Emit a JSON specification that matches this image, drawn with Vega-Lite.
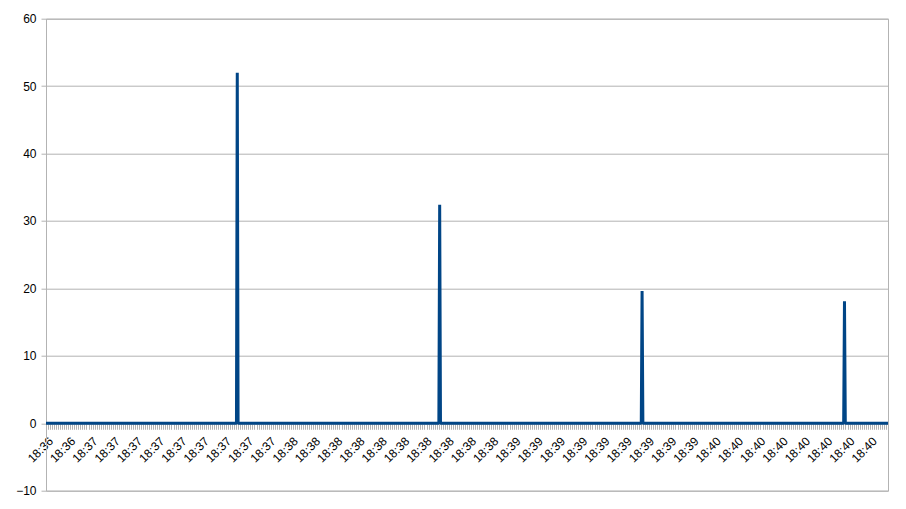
{
  "$schema": "https://vega.github.io/schema/vega-lite/v6.json",
  "width": 842,
  "height": 472,
  "autosize": {"type": "none"},
  "padding": {"left": 46, "top": 18.7, "right": 18, "bottom": 18.3},
  "background": "white",
  "config": {
    "view": {"stroke": "#b3b3b3", "strokeWidth": 1},
    "axis": {"labelFont": "Liberation Sans", "labelFontSize": 12, "labelColor": "#000000"}
  },
  "data": {
    "values": [
      {"sample": 0, "value": 0},
      {"sample": 94.1, "value": 0},
      {"sample": 94.5, "value": 52.0},
      {"sample": 94.9, "value": 0},
      {"sample": 194.1, "value": 0},
      {"sample": 194.5, "value": 32.4},
      {"sample": 194.9, "value": 0},
      {"sample": 294.1, "value": 0},
      {"sample": 294.5, "value": 19.6},
      {"sample": 294.9, "value": 0},
      {"sample": 394.1, "value": 0},
      {"sample": 394.5, "value": 18.1},
      {"sample": 394.9, "value": 0},
      {"sample": 416, "value": 0}
    ]
  },
  "layer": [
    {
      "mark": {"type": "line", "color": "#004586", "strokeWidth": 3, "strokeJoin": "bevel", "clip": false},
      "encoding": {
        "x": {
          "field": "sample", "type": "quantitative",
          "scale": {"domain": [0, 416], "nice": false, "zero": false},
          "axis": {
            "orient": "bottom", "offset": -67.43, "title": null, "grid": false,
            "domain": false, "ticks": false,
            "values": [0.5, 11.5, 22.5, 33.5, 44.5, 55.5, 66.5, 77.5, 88.5, 99.5, 110.5, 121.5, 132.5, 143.5, 154.5, 165.5, 176.5, 187.5, 198.5, 209.5, 220.5, 231.5, 242.5, 253.5, 264.5, 275.5, 286.5, 297.5, 308.5, 319.5, 330.5, 341.5, 352.5, 363.5, 374.5, 385.5, 396.5, 407.5],
            "labelExpr": "['18:36','18:36','18:37','18:37','18:37','18:37','18:37','18:37','18:37','18:37','18:37','18:38','18:38','18:38','18:38','18:38','18:38','18:38','18:38','18:38','18:38','18:39','18:39','18:39','18:39','18:39','18:39','18:39','18:39','18:39','18:40','18:40','18:40','18:40','18:40','18:40','18:40','18:40'][floor(datum.value / 11)]",
            "labelAngle": -45, "labelAlign": "right", "labelBaseline": "top",
            "labelPadding": 12, "labelOverlap": false, "labelFlush": false, "labelBound": false
          }
        },
        "y": {
          "field": "value", "type": "quantitative",
          "scale": {"domain": [-10, 60], "nice": false, "zero": false},
          "axis": {
            "title": null, "values": [-10, 0, 10, 20, 30, 40, 50, 60],
            "grid": true, "gridColor": "#b3b3b3", "gridWidth": 1,
            "domainColor": "#b3b3b3", "tickColor": "#b3b3b3", "tickSize": 5,
            "labelPadding": 5
          }
        }
      }
    },
    {
      "mark": {"type": "line", "opacity": 0},
      "encoding": {
        "x": {
          "field": "sample", "type": "quantitative",
          "scale": {"domain": [0, 416], "nice": false, "zero": false},
          "axis": {
            "orient": "bottom", "offset": -67.43, "title": null, "grid": false,
            "labels": false, "domain": false, "tickCount": 416,
            "tickColor": "#b3b3b3", "tickSize": 6, "tickWidth": 1
          }
        },
        "y": {"field": "value", "type": "quantitative"}
      }
    }
  ],
  "resolve": {"axis": {"x": "independent"}}
}
